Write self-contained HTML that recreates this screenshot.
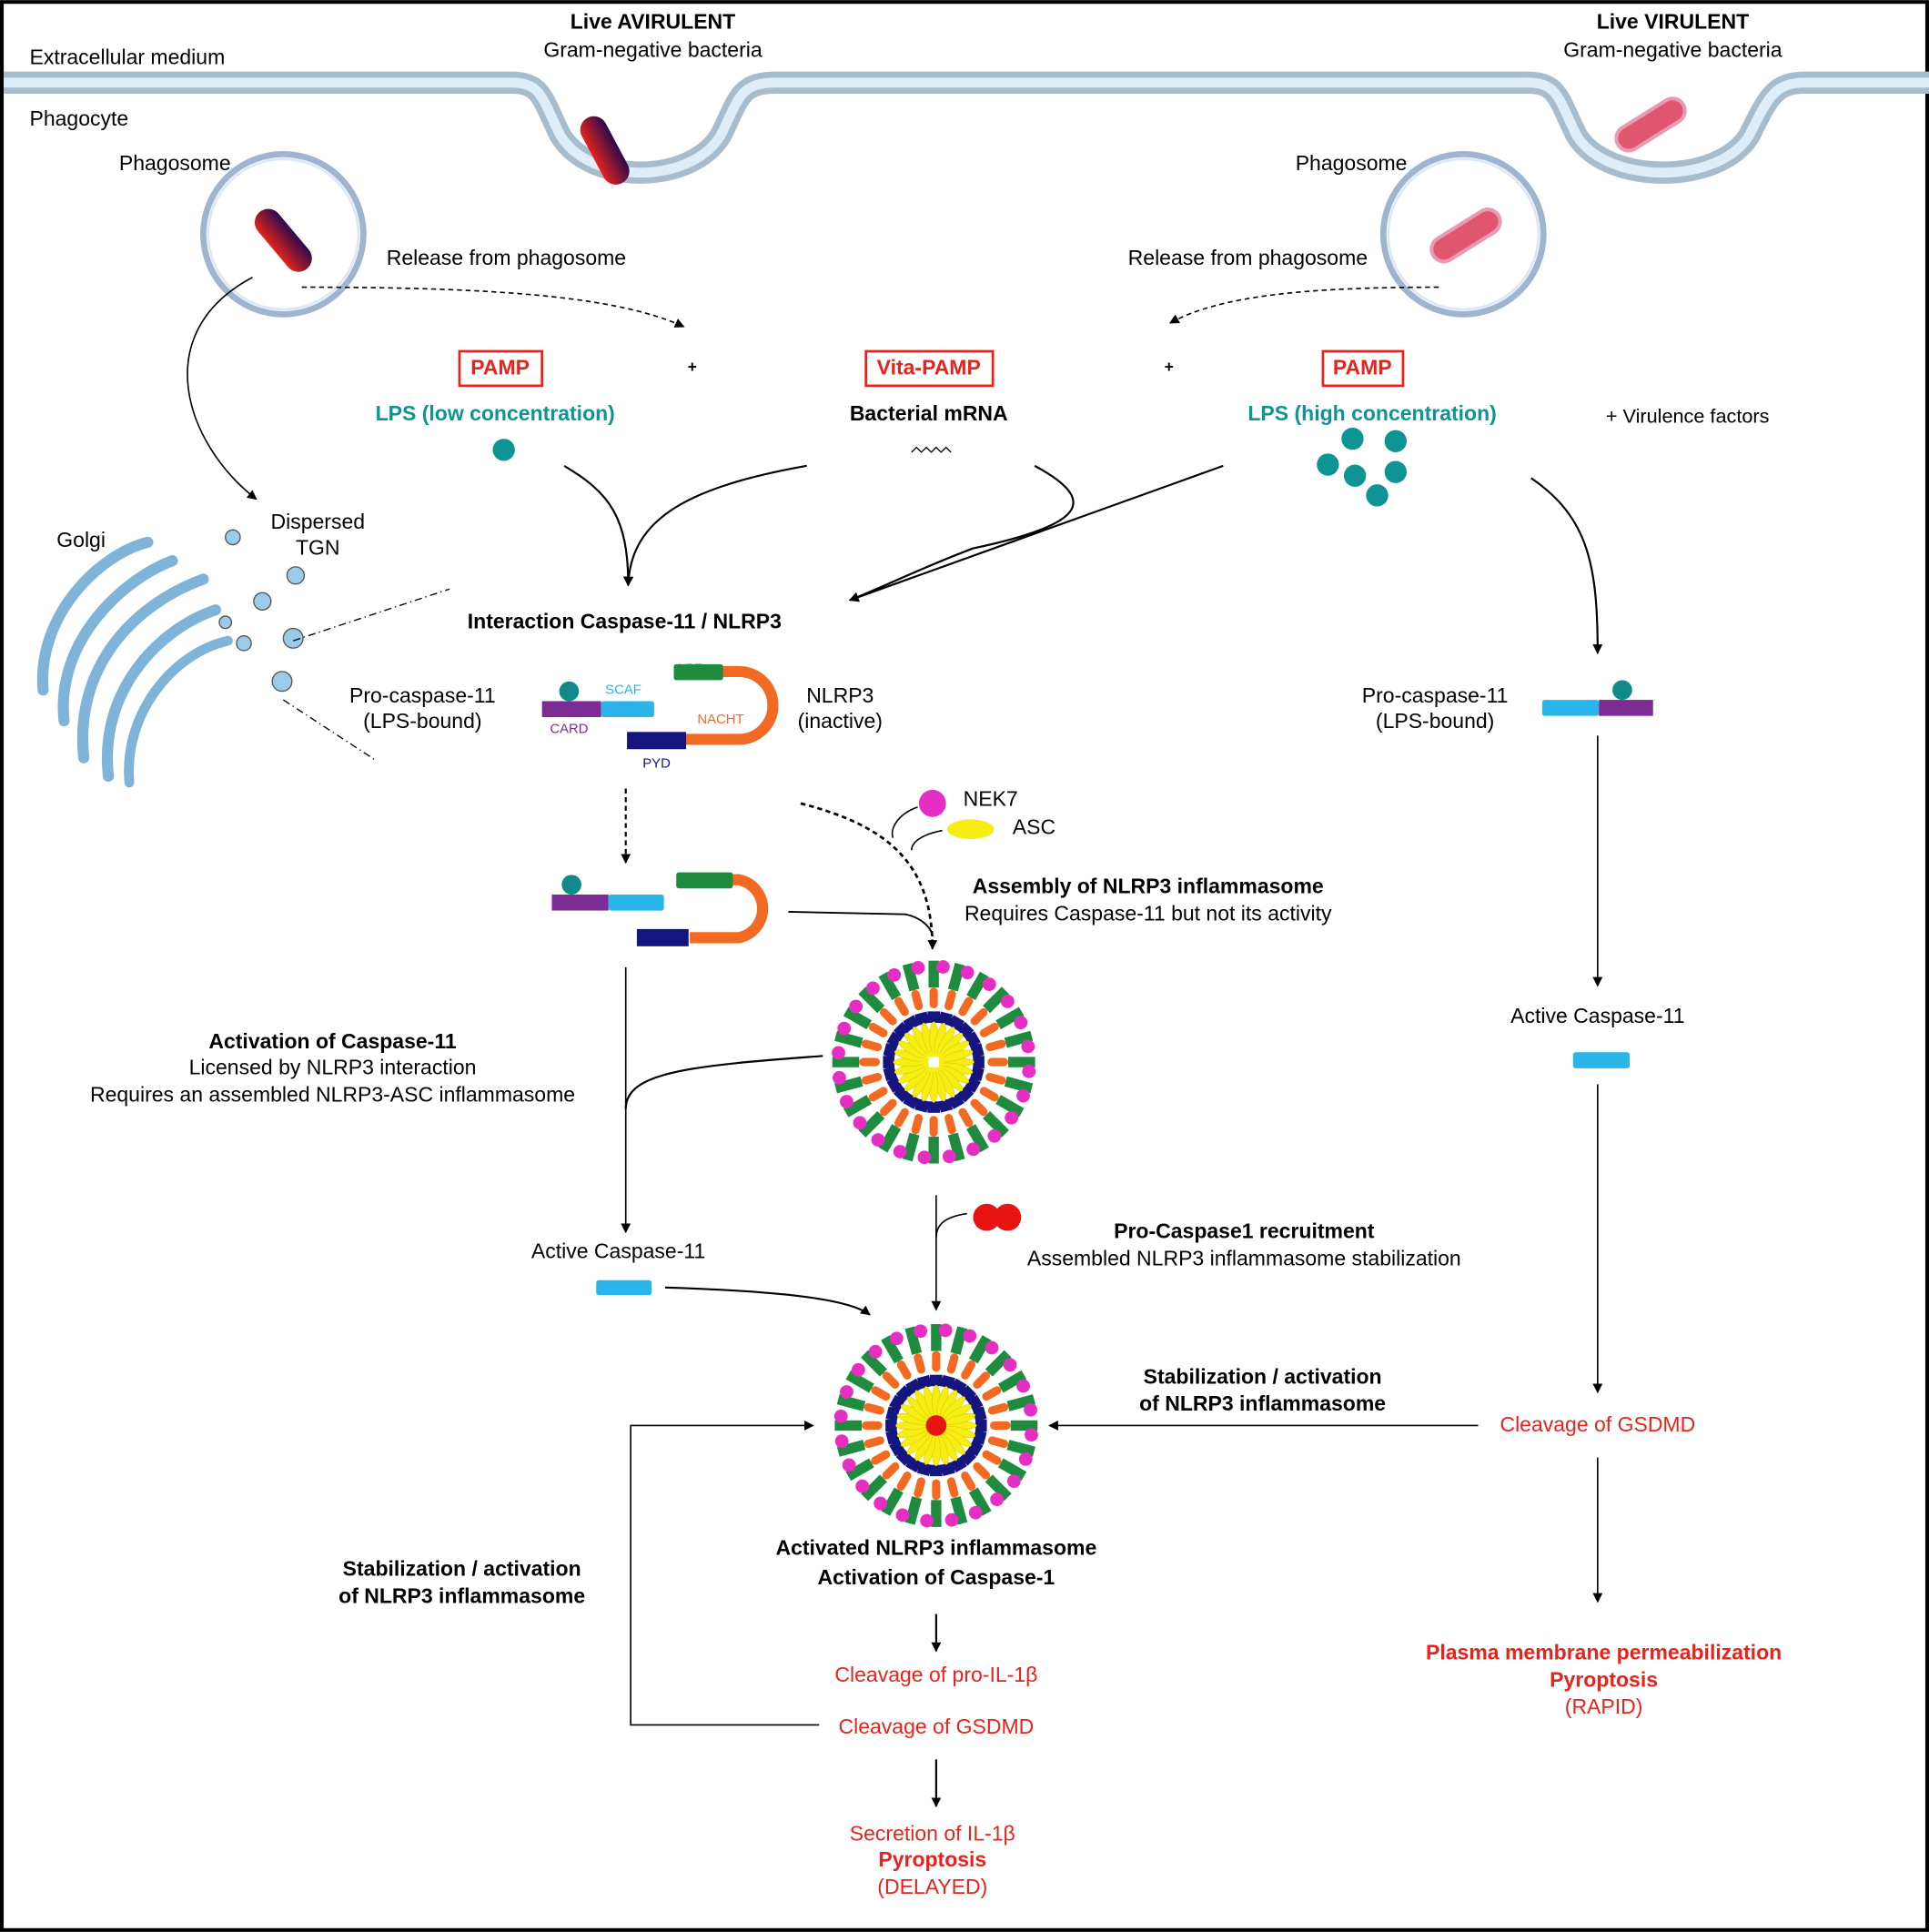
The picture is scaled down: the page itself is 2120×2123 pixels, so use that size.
<!DOCTYPE html>
<html><head><meta charset="utf-8"><style>
html,body{margin:0;padding:0;background:#fff}
svg{display:block}
text{font-family:"Liberation Sans",Arial,sans-serif;font-size:17px}
.c{text-anchor:middle}.b{font-weight:bold}.r{fill:#e8231c}.t{fill:#0e9494}
</style></head><body>
<svg id="s" width="2120" height="2123" viewBox="0 0 1566 1568" xmlns="http://www.w3.org/2000/svg">
<defs>
<marker id="a" markerWidth="8" markerHeight="8" refX="7" refY="4" orient="auto" markerUnits="userSpaceOnUse"><path d="M0,0 L8,4 L0,8 z" fill="#000"/></marker>
<linearGradient id="bg1" x1="0" y1="0" x2="1" y2="0"><stop offset="0" stop-color="#e2231a"/><stop offset="1" stop-color="#2b0a4e"/></linearGradient>
</defs>
<rect x="1.5" y="1.5" width="1563" height="1565" fill="#fff" stroke="#000" stroke-width="3"/>
<g id="inf1" transform="translate(758,862) scale(0.84)"></g>
<g id="inf2" transform="translate(760,1157) scale(0.84)"></g>
<!-- membrane -->
<path d="M3,67 L415,67 C440,67 440,80 455,110 C480,150 560,150 585,110 C600,80 600,67 630,67 L1240,67 C1265,67 1265,80 1280,110 C1305,150 1395,150 1420,110 C1435,80 1440,67 1465,67 L1566,67" fill="none" stroke="#a7bccc" stroke-width="18"/>
<path d="M3,67 L415,67 C440,67 440,80 455,110 C480,150 560,150 585,110 C600,80 600,67 630,67 L1240,67 C1265,67 1265,80 1280,110 C1305,150 1395,150 1420,110 C1435,80 1440,67 1465,67 L1566,67" fill="none" stroke="#ddeefa" stroke-width="8"/>
<rect x="480" y="92" width="22" height="60" rx="11" fill="url(#bg1)" transform="rotate(-28 491 122)"/>
<rect x="1330" y="70" width="20" height="62" rx="10" fill="#e0566f" stroke="#e69bb0" stroke-width="3" transform="rotate(58 1340 101)"/>
<!-- phagosomes -->
<circle cx="230" cy="190" r="65" fill="#fff" stroke="#9fb4cf" stroke-width="5"/>
<circle cx="230" cy="190" r="61" fill="none" stroke="#dbe8f5" stroke-width="2"/>
<rect x="219" y="165" width="22" height="60" rx="11" fill="url(#bg1)" transform="rotate(-40 230 195)"/>
<circle cx="1188" cy="190" r="65" fill="#fff" stroke="#9fb4cf" stroke-width="5"/>
<circle cx="1188" cy="190" r="61" fill="none" stroke="#dbe8f5" stroke-width="2"/>
<rect x="1180" y="160" width="20" height="62" rx="10" fill="#e0566f" stroke="#e69bb0" stroke-width="3" transform="rotate(58 1190 191)"/>
<!-- golgi -->
<g fill="none" stroke="#7fb3d8" stroke-linecap="round">
<path d="M35,560 C30,500 80,450 120,440" stroke-width="9"/>
<path d="M52,585 C45,520 100,470 140,455" stroke-width="9"/>
<path d="M68,615 C60,540 110,490 165,470" stroke-width="9"/>
<path d="M88,630 C80,560 130,510 175,495" stroke-width="9"/>
<path d="M105,635 C100,580 140,530 185,520" stroke-width="8"/>
</g>
<g fill="#9ccbea" stroke="#555" stroke-width="1">
<circle cx="189" cy="436" r="6"/><circle cx="240" cy="467" r="7"/><circle cx="213" cy="488" r="7"/><circle cx="183" cy="505" r="5"/><circle cx="238" cy="518" r="8"/><circle cx="198" cy="522" r="6"/><circle cx="229" cy="553" r="8"/>
</g>
<g stroke="#000" stroke-width="1" fill="none" stroke-dasharray="6,3,1,3"><path d="M238,520 L365,478"/><path d="M230,568 L305,617"/></g>
<!-- texts top -->
<text x="24" y="52">Extracellular medium</text>
<text x="24" y="102">Phagocyte</text>
<text x="530" y="23" class="c b">Live AVIRULENT</text><text x="530" y="46" class="c">Gram-negative bacteria</text>
<text x="1358" y="23" class="c b">Live VIRULENT</text><text x="1358" y="46" class="c">Gram-negative bacteria</text>
<text x="142" y="138" class="c">Phagosome</text><text x="1097" y="138" class="c">Phagosome</text>
<text x="411" y="215" class="c">Release from phagosome</text><text x="1013" y="215" class="c">Release from phagosome</text>
<rect x="373" y="285" width="67" height="28" fill="none" stroke="#e8231c" stroke-width="2"/>
<text x="406" y="304" class="c b r">PAMP</text>
<rect x="703" y="285" width="103" height="28" fill="none" stroke="#e8231c" stroke-width="2"/>
<text x="754" y="304" class="c b r">Vita-PAMP</text>
<rect x="1074" y="285" width="65" height="28" fill="none" stroke="#e8231c" stroke-width="2"/>
<text x="1106" y="304" class="c b r">PAMP</text>
<text x="562" y="302" class="c b" style="font-size:13px">+</text><text x="949" y="302" class="c b" style="font-size:13px">+</text>
<text x="402" y="341" class="c b t">LPS (low concentration)</text>
<text x="754" y="341" class="c b">Bacterial mRNA</text>
<text x="1114" y="341" class="c b t">LPS (high concentration)</text>
<text x="1370" y="343" class="c" style="font-size:16px">+ Virulence factors</text>
<g fill="#0e9494"><circle cx="409" cy="365" r="9"/>
<circle cx="1098" cy="356" r="9"/><circle cx="1133" cy="358" r="9"/><circle cx="1078" cy="377" r="9"/><circle cx="1100" cy="386" r="9"/><circle cx="1133" cy="383" r="9"/><circle cx="1118" cy="402" r="9"/></g>
<path d="M740,367 l4,-4 l4,4 l4,-4 l4,4 l4,-4 l4,4 l4,-4 l4,4" fill="none" stroke="#000" stroke-width="1"/>
<text x="46" y="444">Golgi</text><text x="258" y="429" class="c">Dispersed</text><text x="258" y="450" class="c">TGN</text>
<!-- connectors -->
<g fill="none" stroke="#000" stroke-width="1.6">
<path d="M205,225 C120,270 150,360 208,405" marker-end="url(#a)" stroke-width="1.2"/>
<path d="M245,233 C400,233 500,240 555,265" stroke-dasharray="4,3" marker-end="url(#a)" stroke-width="1.2"/>
<path d="M1168,233 C1060,233 990,240 950,262" stroke-dasharray="4,3" marker-end="url(#a)" stroke-width="1.2"/>
<path d="M458,378 C495,400 510,420 510,475" marker-end="url(#a)"/>
<path d="M655,378 C560,395 512,420 510,475" marker-end="url(#a)"/>
<path d="M840,378 C890,405 885,425 790,445 C750,460 720,475 690,487" marker-end="url(#a)"/>
<path d="M993,378 L690,487" marker-end="url(#a)"/>
<path d="M1243,388 C1290,420 1297,460 1297,530" marker-end="url(#a)"/>
<path d="M1297,597 L1297,800" marker-end="url(#a)" stroke-width="1.2"/>
<path d="M1297,880 L1297,1130" marker-end="url(#a)" stroke-width="1.2"/>
<path d="M1297,1183 L1297,1300" marker-end="url(#a)" stroke-width="1.2"/>
<path d="M1200,1157 L852,1157" marker-end="url(#a)" stroke-width="1.2"/>
<path d="M508,640 L508,700" stroke-dasharray="4,3" marker-end="url(#a)"/>
<path d="M650,652 C720,670 757,700 757,770" stroke-dasharray="4,3" marker-end="url(#a)" stroke-width="2"/>
<path d="M745,655 C730,660 722,672 725,680" stroke-width="1.2"/>
<path d="M765,674 C745,678 740,685 740,690" stroke-width="1.2"/>
<path d="M640,740 L735,742 C750,745 757,755 757,760" stroke-width="1.4"/>
<path d="M508,785 L508,1000" marker-end="url(#a)" stroke-width="1.2"/>
<path d="M668,857 C560,865 508,870 508,900" stroke-width="1.6"/>
<path d="M540,1045 C640,1048 690,1055 706,1067" marker-end="url(#a)"/>
<path d="M760,970 L760,1063" marker-end="url(#a)" stroke-width="1.2"/>
<path d="M785,985 C765,988 760,995 760,1005" stroke-width="1.2"/>
<path d="M760,1310 L760,1340" marker-end="url(#a)"/>
<path d="M760,1428 L760,1466" marker-end="url(#a)"/>
<path d="M665,1400 L512,1400 L512,1157 L660,1157" marker-end="url(#a)" stroke-width="1.2"/>
</g>
<!-- domain diagram 1 -->
<path d="M585,545 L600,545 A25,25 0 0 1 600,600 L556,600" fill="none" stroke="#f26a21" stroke-width="9"/>
<rect x="440" y="569" width="48" height="13" fill="#7b2d93"/><rect x="488" y="569" width="43" height="13" rx="2" fill="#29b5ea"/>
<circle cx="462" cy="561" r="8" fill="#0e8a8a"/>
<rect x="547" y="539" width="40" height="13" rx="2" fill="#1f8b3e"/>
<rect x="509" y="594" width="48" height="14" fill="#15157f"/>
<text x="462" y="595" class="c" style="font-size:11px;fill:#7b2d93">CARD</text>
<text x="506" y="563" class="c" style="font-size:11px;fill:#29b5ea">SCAF</text>
<text x="561" y="546" class="c" style="font-size:11px;fill:#1f8b3e">LRR</text>
<text x="585" y="587" class="c" style="font-size:11px;fill:#f26a21">NACHT</text>
<text x="533" y="623" class="c" style="font-size:11px;fill:#15157f">PYD</text>
<text x="343" y="570" class="c">Pro-caspase-11</text><text x="343" y="591" class="c">(LPS-bound)</text>
<text x="682" y="570" class="c">NLRP3</text><text x="682" y="591" class="c">(inactive)</text>
<text x="507" y="510" class="c b">Interaction Caspase-11 / NLRP3</text>
<!-- domain diagram 2 -->
<path d="M594,714 L600,714 A24,24 0 0 1 600,761 L560,761" fill="none" stroke="#f26a21" stroke-width="9"/>
<rect x="448" y="726" width="46" height="13" fill="#7b2d93"/><rect x="494" y="726" width="45" height="13" rx="2" fill="#29b5ea"/>
<circle cx="464" cy="718" r="8" fill="#0e8a8a"/>
<rect x="549" y="708" width="46" height="13" rx="2" fill="#1f8b3e"/>
<rect x="517" y="754" width="42" height="14" fill="#15157f"/>
<!-- right pro-caspase -->
<rect x="1252" y="568" width="46" height="13" rx="2" fill="#29b5ea"/><rect x="1298" y="568" width="44" height="13" fill="#7b2d93"/>
<circle cx="1317" cy="560" r="8" fill="#0e8a8a"/>
<text x="1165" y="570" class="c">Pro-caspase-11</text><text x="1165" y="591" class="c">(LPS-bound)</text>
<text x="1297" y="830" class="c">Active Caspase-11</text>
<rect x="1277" y="854" width="46" height="13" rx="2" fill="#29b5ea"/>
<text x="1297" y="1162" class="c r">Cleavage of GSDMD</text>
<text x="1302" y="1347" class="c b r">Plasma membrane permeabilization</text>
<text x="1302" y="1369" class="c b r">Pyroptosis</text>
<text x="1302" y="1391" class="c r">(RAPID)</text>
<!-- NEK7 ASC -->
<circle cx="757" cy="652" r="11" fill="#e62ec4"/><text x="782" y="654">NEK7</text>
<ellipse cx="788" cy="673" rx="19" ry="8" fill="#f5ee12"/><text x="822" y="677">ASC</text>
<text x="932" y="725" class="c b">Assembly of NLRP3 inflammasome</text>
<text x="932" y="747" class="c">Requires Caspase-11 but not its activity</text>
<text x="270" y="851" class="c b">Activation of Caspase-11</text>
<text x="270" y="872" class="c">Licensed by NLRP3 interaction</text>
<text x="270" y="894" class="c">Requires an assembled NLRP3-ASC inflammasome</text>
<text x="502" y="1021" class="c">Active Caspase-11</text>
<rect x="484" y="1039" width="45" height="12" rx="2" fill="#29b5ea"/>
<circle cx="801" cy="988" r="11" fill="#e81414"/><circle cx="818" cy="988" r="11" fill="#e81414"/>
<text x="1010" y="1005" class="c b">Pro-Caspase1 recruitment</text>
<text x="1010" y="1027" class="c">Assembled NLRP3 inflammasome stabilization</text>
<text x="1025" y="1123" class="c b">Stabilization / activation</text>
<text x="1025" y="1145" class="c b">of NLRP3 inflammasome</text>
<text x="375" y="1279" class="c b">Stabilization / activation</text>
<text x="375" y="1301" class="c b">of NLRP3 inflammasome</text>
<text x="760" y="1262" class="c b">Activated NLRP3 inflammasome</text>
<text x="760" y="1286" class="c b">Activation of Caspase-1</text>
<text x="760" y="1365" class="c r">Cleavage of pro-IL-1β</text>
<text x="760" y="1407" class="c r">Cleavage of GSDMD</text>
<text x="757" y="1494" class="c r">Secretion of IL-1β</text>
<text x="757" y="1515" class="c b r">Pyroptosis</text>
<text x="757" y="1537" class="c r">(DELAYED)</text>
</svg>
<script>
function build(id,red){
 var g=document.getElementById(id),h='';
 var n=24;
 for(var i=0;i<n;i++){var a=i*360/n;
  h+='<g transform="rotate('+a+')">'+
  '<rect x="52" y="-4" width="20" height="8" rx="4" fill="#f26a21"/>'+
  '<rect x="72" y="-5" width="26" height="10" fill="#1f8b3e"/>'+
  '<circle cx="92" cy="9" r="6.5" fill="#e62ec4"/>'+
  '<rect x="38" y="-6" width="11" height="12" fill="#15157f"/>'+
  '<ellipse cx="24" cy="0" rx="15" ry="4" fill="#f5ee12" stroke="#e0c800" stroke-width="0.5"/></g>';
 }
 h+='<circle r="10" fill="#f5ee12"/>';
 h+= red?'<circle r="10" fill="#e81414"/>':'<rect x="-5" y="-5" width="10" height="10" fill="#fff"/>';
 g.innerHTML=h;
}
build('inf1',false);build('inf2',true);
</script>
</body></html>
